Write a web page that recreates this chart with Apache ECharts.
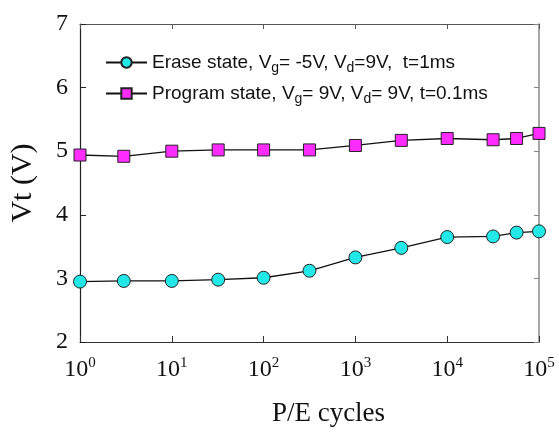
<!DOCTYPE html>
<html><head><meta charset="utf-8">
<script src="https://cdn.jsdelivr.net/npm/echarts@6/dist/echarts.min.js"></script>
<style>html,body{margin:0;padding:0;background:#fff}#c{width:559px;height:432px}</style>
</head><body><div id="c"></div>
<script>
const cycles = [1, 3, 10, 32, 100, 316, 1000, 3162, 10000, 31623, 57000, 100000];
const eraseVt = [2.95, 2.96, 2.96, 2.98, 3.01, 3.12, 3.33, 3.48, 3.65, 3.66, 3.72, 3.74];
const programVt = [4.94, 4.92, 5.00, 5.02, 5.02, 5.02, 5.09, 5.17, 5.20, 5.18, 5.20, 5.28];
const yTicks = [2, 3, 4, 5, 6, 7];
const xTickExps = [0, 1, 2, 3, 4, 5];
const eraseName = '{t|Erase state, V}{sub|g}{t|= -5V, V}{sub|d}{t|=9V,  t=1ms}';
const programName = '{t|Program state, V}{sub|g}{t|= 9V, V}{sub|d}{t|= 9V, t=0.1ms}';

const chart = echarts.init(document.getElementById('c'), null, {renderer: 'canvas'});
const serif = 'Liberation Serif';
const sans = 'Liberation Sans';
chart.setOption({
  animation: false,
  backgroundColor: '#fff',
  grid: {left: 75, right: 20, top: 24, bottom: 84, containLabel: false},
  legend: {
    orient: 'vertical', left: 100, top: 45, itemWidth: 41, itemHeight: 13, itemGap: 6,
    data: ['erase', 'program'],
    formatter: n => n === 'erase' ? eraseName : programName,
    textStyle: {
      fontFamily: sans, fontSize: 19, color: '#111',
      rich: {
        t: {fontFamily: sans, fontSize: 19, color: '#111', lineHeight: 22},
        sub: {fontFamily: sans, fontSize: 14, color: '#111', padding: [11, 0, 0, 0], lineHeight: 22}
      }
    }
  },
  xAxis: [{
    type: 'log', logBase: 10, min: 1, max: 100000,
    axisLine: {lineStyle: {color: '#333', width: 1.2}},
    axisTick: {inside: true, length: 6, lineStyle: {color: '#333'}},
    minorTick: {show: false},
    splitLine: {show: false},
    axisLabel: {
      margin: 14,
      formatter: v => '{b|10}{s|' + Math.round(Math.log10(v)) + '}',
      rich: {
        b: {fontFamily: serif, fontSize: 24, color: '#111', lineHeight: 28},
        s: {fontFamily: serif, fontSize: 15, color: '#111', verticalAlign: 'top', lineHeight: 28, padding: [0, 0, 10, 0]}
      }
    },
    name: 'P/E cycles', nameLocation: 'middle', nameGap: 58,
    nameTextStyle: {fontFamily: serif, fontSize: 27, color: '#111', padding: [0, 0, 0, 38]}
  }, {
    type: 'log', logBase: 10, min: 1, max: 100000, position: 'top',
    axisLine: {show: true, lineStyle: {color: '#555', width: 1.2}},
    axisTick: {inside: true, length: 5, lineStyle: {color: '#555'}},
    axisLabel: {show: false}, splitLine: {show: false}
  }],
  yAxis: [{
    type: 'value', min: 2, max: 7, interval: 1,
    axisLine: {show: true, lineStyle: {color: '#222', width: 1.2}},
    axisTick: {show: true, inside: true, length: 6, lineStyle: {color: '#222'}},
    splitLine: {show: false},
    axisLabel: {margin: 12, fontFamily: serif, fontSize: 24, color: '#111'},
    name: 'Vt (V)', nameLocation: 'middle', nameGap: 42,
    nameTextStyle: {fontFamily: serif, fontSize: 30, color: '#111'}
  }, {
    type: 'value', min: 2, max: 7, interval: 1, position: 'right',
    axisLine: {show: true, lineStyle: {color: '#888', width: 1.5}},
    axisTick: {show: true, inside: true, length: 5, lineStyle: {color: '#888'}},
    splitLine: {show: false}, axisLabel: {show: false}
  }],
  series: [{
    name: 'erase', type: 'line',
    data: cycles.map((c, i) => [c, eraseVt[i]]),
    symbol: 'circle', symbolSize: 13,
    lineStyle: {color: '#111', width: 1.3},
    itemStyle: {color: '#22e8e8', borderColor: '#222', borderWidth: 1},
    z: 3
  }, {
    name: 'program', type: 'line',
    data: cycles.map((c, i) => [c, programVt[i]]),
    symbol: 'rect', symbolSize: 12,
    lineStyle: {color: '#111', width: 1.3},
    itemStyle: {color: '#ff2bff', borderColor: '#222', borderWidth: 1},
    z: 3
  }]
});
</script></body></html>
